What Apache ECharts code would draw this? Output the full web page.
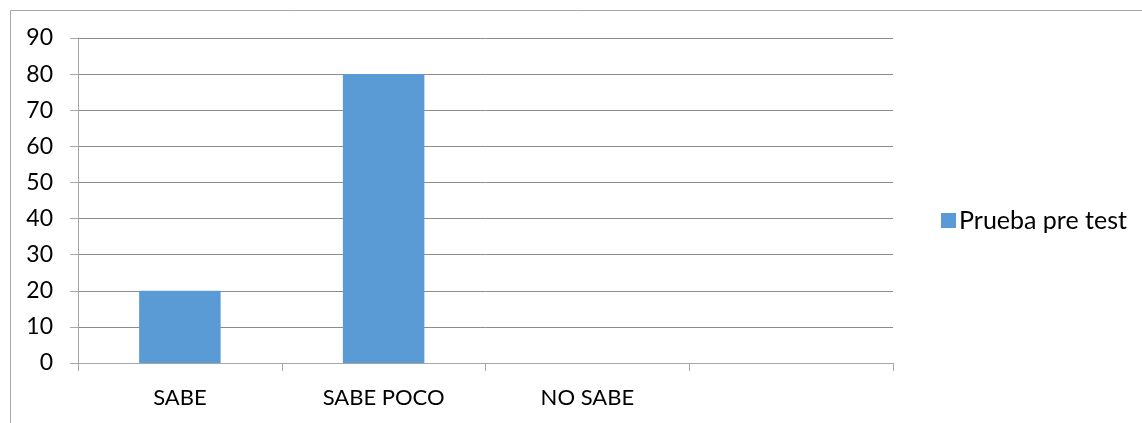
<!DOCTYPE html>
<html><head><meta charset="utf-8">
<script src="https://cdn.jsdelivr.net/npm/echarts@6/dist/echarts.min.js"></script>
<style>html,body{margin:0;padding:0;background:#fff}#c{width:1142px;height:423px}</style>
</head><body><div id="c"></div>
<script>
const categories = ['SABE', 'SABE POCO', 'NO SABE', ''];
const seriesName = 'Prueba pre test';
const values = [20, 80, 0, null];
const yTicks = { min: 0, max: 90, interval: 10 };

const chart = echarts.init(document.getElementById('c'), null, { renderer: 'canvas' });
const font = 'Lato, "Open Sans", sans-serif';
chart.setOption({
  animation: false,
  backgroundColor: '#fff',
  graphic: [{
    type: 'rect', shape: { x: 10.5, y: 10.5, width: 1300, height: 600 },
    style: { fill: 'none', stroke: '#a6a6a6', lineWidth: 1 }, silent: true
  }],
  grid: { left: 78, right: 249, top: 38, bottom: 60, containLabel: false },
  legend: {
    data: [seriesName], orient: 'vertical', left: 936, top: 203,
    icon: 'rect', itemWidth: 15, itemHeight: 15, itemGap: 8,
    textStyle: { fontFamily: font, fontSize: 25, color: '#000', padding: [0, 0, 0, -2] }
  },
  xAxis: {
    type: 'category', data: categories,
    axisLine: { show: true, lineStyle: { color: '#a6a6a6', width: 1 } },
    axisTick: { show: true, alignWithLabel: false, length: 8, lineStyle: { color: '#a6a6a6' } },
    axisLabel: { fontFamily: font, fontSize: 22, color: '#000', margin: 24 },
    splitLine: { show: false }
  },
  yAxis: {
    type: 'value', min: yTicks.min, max: yTicks.max, interval: yTicks.interval,
    axisLine: { show: true, lineStyle: { color: '#a6a6a6', width: 1 } },
    axisTick: { show: true, length: 8, lineStyle: { color: '#a6a6a6' } },
    axisLabel: { fontFamily: font, fontSize: 23, color: '#000', margin: 25 },
    splitLine: { show: true, lineStyle: { color: '#8c8c8c', width: 1 } }
  },
  series: [{
    name: seriesName, type: 'bar', data: values,
    barCategoryGap: '60%', itemStyle: { color: '#5B9BD5' }
  }]
});
</script></body></html>
